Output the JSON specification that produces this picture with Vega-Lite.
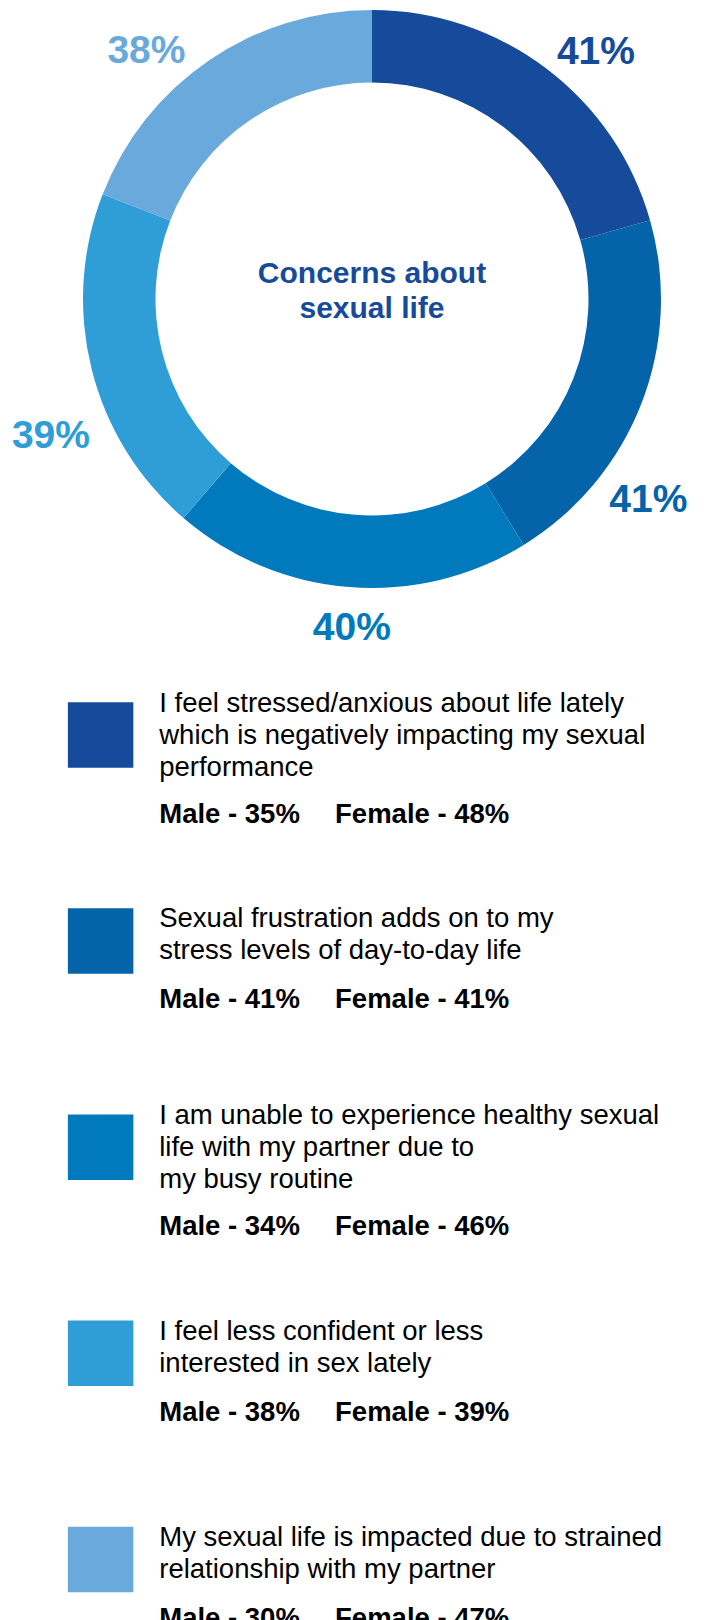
{
  "$schema": "https://vega.github.io/schema/vega-lite/v6.json",
  "background": "#ffffff",
  "padding": {"left": 11, "top": 0, "right": 0, "bottom": 0},
  "spacing": 0,
  "bounds": "flush",
  "config": {"view": {"stroke": null}, "font": "Liberation Sans"},
  "datasets": {
    "concerns": [
      {"rank": 1, "concern": "Stressed/anxious", "share": 0.41, "desc": ["I feel stressed/anxious about life lately", "which is negatively impacting my sexual", "performance"], "male": "Male - 35%", "female": "Female - 48%"},
      {"rank": 2, "concern": "Sexual frustration", "share": 0.41, "desc": ["Sexual frustration adds on to my", "stress levels of day-to-day life"], "male": "Male - 41%", "female": "Female - 41%"},
      {"rank": 3, "concern": "Busy routine", "share": 0.40, "desc": ["I am unable to experience healthy sexual", "life with my partner due to", "my busy routine"], "male": "Male - 34%", "female": "Female - 46%"},
      {"rank": 4, "concern": "Less confident", "share": 0.39, "desc": ["I feel less confident or less", "interested in sex lately"], "male": "Male - 38%", "female": "Female - 39%"},
      {"rank": 5, "concern": "Strained relationship", "share": 0.38, "desc": ["My sexual life is impacted due to strained", "relationship with my partner"], "male": "Male - 30%", "female": "Female - 47%"}
    ],
    "title": [{"title": ["Concerns about", "sexual life"]}]
  },
  "vconcat": [
    {
      "width": 660,
      "height": 598,
      "data": {"name": "concerns"},
      "resolve": {"scale": {"theta": "independent"}},
      "layer": [
        {
          "mark": {"type": "arc", "radius": 289, "radius2": 216.5},
          "encoding": {
            "theta": {"field": "share", "type": "quantitative", "stack": true},
            "order": {"field": "rank", "type": "quantitative"},
            "color": {"field": "concern", "type": "nominal", "legend": null,
              "scale": {"domain": ["Stressed/anxious", "Sexual frustration", "Busy routine", "Less confident", "Strained relationship"],
                        "range": ["#164A9B", "#0563AA", "#007ABD", "#2F9ED7", "#6AA9DB"]}}
          }
        },
        {
          "transform": [{"filter": "datum.rank == 1"}],
          "mark": {"type": "text", "radius": 333.2, "fontSize": 39, "fontWeight": "bold", "align": "center", "baseline": "middle"},
          "encoding": {
            "theta": {"field": "rank", "type": "ordinal", "bandPosition": 0.5865, "scale": {"type": "band", "domain": [1, 2, 3, 4, 5], "paddingInner": 0, "paddingOuter": 0}},
            "color": {"field": "concern", "type": "nominal", "legend": null},
            "text": {"field": "share", "type": "quantitative", "format": ".0%"}
          }
        },
        {
          "transform": [{"filter": "datum.rank == 2"}],
          "mark": {"type": "text", "radius": 341.9, "fontSize": 39, "fontWeight": "bold", "align": "center", "baseline": "middle"},
          "encoding": {
            "theta": {"field": "rank", "type": "ordinal", "bandPosition": 0.751, "scale": {"type": "band", "domain": [1, 2, 3, 4, 5], "paddingInner": 0, "paddingOuter": 0}},
            "color": {"field": "concern", "type": "nominal", "legend": null},
            "text": {"field": "share", "type": "quantitative", "format": ".0%"}
          }
        },
        {
          "transform": [{"filter": "datum.rank == 3"}],
          "mark": {"type": "text", "radius": 329.4, "fontSize": 39, "fontWeight": "bold", "align": "center", "baseline": "middle"},
          "encoding": {
            "theta": {"field": "rank", "type": "ordinal", "bandPosition": 0.5486, "scale": {"type": "band", "domain": [1, 2, 3, 4, 5], "paddingInner": 0, "paddingOuter": 0}},
            "color": {"field": "concern", "type": "nominal", "legend": null},
            "text": {"field": "share", "type": "quantitative", "format": ".0%"}
          }
        },
        {
          "transform": [{"filter": "datum.rank == 4"}],
          "mark": {"type": "text", "radius": 349.2, "fontSize": 39, "fontWeight": "bold", "align": "center", "baseline": "middle"},
          "encoding": {
            "theta": {"field": "rank", "type": "ordinal", "bandPosition": 0.4285, "scale": {"type": "band", "domain": [1, 2, 3, 4, 5], "paddingInner": 0, "paddingOuter": 0}},
            "color": {"field": "concern", "type": "nominal", "legend": null},
            "text": {"field": "share", "type": "quantitative", "format": ".0%"}
          }
        },
        {
          "transform": [{"filter": "datum.rank == 5"}],
          "mark": {"type": "text", "radius": 335.3, "fontSize": 39, "fontWeight": "bold", "align": "center", "baseline": "middle"},
          "encoding": {
            "theta": {"field": "rank", "type": "ordinal", "bandPosition": 0.4128, "scale": {"type": "band", "domain": [1, 2, 3, 4, 5], "paddingInner": 0, "paddingOuter": 0}},
            "color": {"field": "concern", "type": "nominal", "legend": null},
            "text": {"field": "share", "type": "quantitative", "format": ".0%"}
          }
        },
        {
          "data": {"name": "title"},
          "mark": {"type": "text", "fontSize": 30, "fontWeight": "bold", "color": "#164A9B", "align": "center", "baseline": "top", "lineHeight": 35, "dy": -40},
          "encoding": {"text": {"field": "title", "type": "nominal"}}
        }
      ]
    },
    {
      "width": 660,
      "height": 1022,
      "data": {"name": "concerns"},
      "encoding": {
        "y": {"field": "rank", "type": "quantitative", "axis": null, "scale": {"domain": [0.3353, 5.294], "reverse": true, "nice": false, "zero": false}}
      },
      "layer": [
        {
          "mark": {"type": "square", "size": 4290, "filled": true, "opacity": 1},
          "encoding": {
            "x": {"datum": 1, "type": "quantitative", "axis": null, "scale": {"domain": [0, 11.26], "nice": false, "zero": false}},
            "color": {"field": "concern", "type": "nominal", "legend": null}
          }
        },
        {
          "transform": [{"filter": "length(datum.desc) == 3"}],
          "mark": {"type": "text", "align": "left", "baseline": "top", "fontSize": 27.5, "lineHeight": 32, "dy": -45, "color": "#000000", "clip": true},
          "encoding": {"x": {"datum": 2, "type": "quantitative"}, "text": {"field": "desc", "type": "nominal"}}
        },
        {
          "transform": [{"filter": "length(datum.desc) == 2"}],
          "mark": {"type": "text", "align": "left", "baseline": "top", "fontSize": 27.5, "lineHeight": 32, "dy": -35.6, "color": "#000000", "clip": true},
          "encoding": {"x": {"datum": 2, "type": "quantitative"}, "text": {"field": "desc", "type": "nominal"}}
        },
        {
          "transform": [{"filter": "length(datum.desc) == 3"}],
          "mark": {"type": "text", "align": "left", "baseline": "middle", "fontSize": 27.5, "fontWeight": "bold", "dy": 80, "color": "#000000", "clip": true},
          "encoding": {"x": {"datum": 2, "type": "quantitative"}, "text": {"field": "male", "type": "nominal"}}
        },
        {
          "transform": [{"filter": "length(datum.desc) == 2"}],
          "mark": {"type": "text", "align": "left", "baseline": "middle", "fontSize": 27.5, "fontWeight": "bold", "dy": 59.4, "color": "#000000", "clip": true},
          "encoding": {"x": {"datum": 2, "type": "quantitative"}, "text": {"field": "male", "type": "nominal"}}
        },
        {
          "transform": [{"filter": "length(datum.desc) == 3"}],
          "mark": {"type": "text", "align": "left", "baseline": "middle", "fontSize": 27.5, "fontWeight": "bold", "dy": 80, "color": "#000000", "clip": true},
          "encoding": {"x": {"datum": 5, "type": "quantitative"}, "text": {"field": "female", "type": "nominal"}}
        },
        {
          "transform": [{"filter": "length(datum.desc) == 2"}],
          "mark": {"type": "text", "align": "left", "baseline": "middle", "fontSize": 27.5, "fontWeight": "bold", "dy": 59.4, "color": "#000000", "clip": true},
          "encoding": {"x": {"datum": 5, "type": "quantitative"}, "text": {"field": "female", "type": "nominal"}}
        }
      ]
    }
  ]
}
